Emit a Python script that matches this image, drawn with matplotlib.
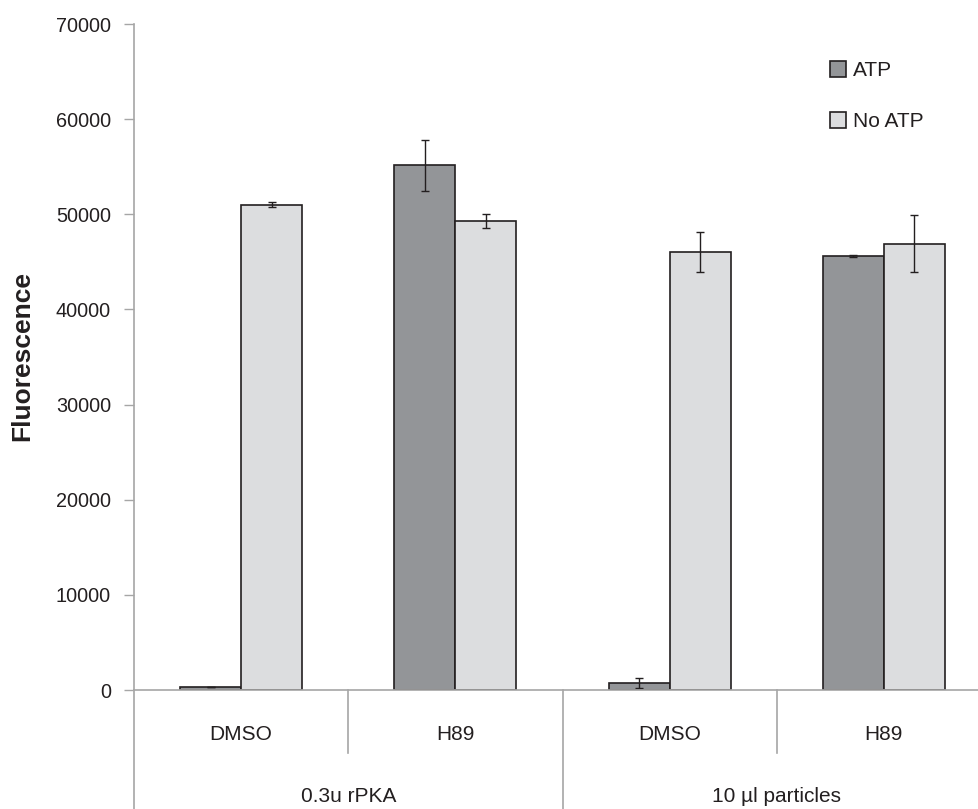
import matplotlib
matplotlib.use("Agg")
import matplotlib.pyplot as plt
from matplotlib.transforms import blended_transform_factory
from matplotlib.patches import Patch

plt.rcParams['font.family'] = ['Liberation Sans', 'DejaVu Sans']

categories = ["DMSO", "H89", "DMSO", "H89"]
groups = ["0.3u rPKA", "10 µl particles"]
series = ["ATP", "No ATP"]
atp = [350, 55150, 750, 45650]
atp_err = [0, 2700, 550, 100]
noatp = [51000, 49300, 46050, 46900]
noatp_err = [250, 700, 2100, 3000]
yticks = [0, 10000, 20000, 30000, 40000, 50000, 60000, 70000]

c_atp = "#939598"
c_no = "#dcdddf"
edge = "#231f20"
spine = "#a6a6a6"
txt = "#231f20"

fig = plt.figure(figsize=(9.79, 8.09), dpi=100)
ax = fig.add_axes([134/979, 1-690/809, (991-134)/979, (690-24)/809])

w = 0.285
xs = [i + 0.5 for i in range(len(categories))]
ekw = dict(ecolor=edge, elinewidth=1, capsize=3, capthick=1)
ax.bar([x - w/2 for x in xs], atp, w, color=c_atp, edgecolor=edge, linewidth=1.2,
       yerr=atp_err, error_kw=ekw, label=series[0])
ax.bar([x + w/2 for x in xs], noatp, w, color=c_no, edgecolor=edge, linewidth=1.2,
       yerr=noatp_err, error_kw=ekw, label=series[1])

ax.set_xlim(0, 4)
ax.set_ylim(0, 70000)
ax.set_yticks(yticks)
ax.set_yticklabels([str(v) for v in yticks], fontsize=14.3, color=txt)
ax.tick_params(axis='y', direction='out', length=7, color=spine, width=1, pad=9.5)
ax.set_xticks([])
for s in ["top", "right"]:
    ax.spines[s].set_visible(False)
for s in ["left", "bottom"]:
    ax.spines[s].set_color(spine)
    ax.spines[s].set_linewidth(1.2)

fig.text(22/979, 1-356/809, "Fluorescence", rotation=90, ha='center', va='center',
         fontsize=19, fontweight='bold', color=txt)

tr = blended_transform_factory(ax.transData, ax.transAxes)
h = (690-24)
def yax(py):
    return (690 - py) / h

ax.plot([0, 0], [0, yax(809)], transform=tr, color=spine, lw=1.2, clip_on=False)
for x in [1, 3]:
    ax.plot([x, x], [0, yax(753)], transform=tr, color=spine, lw=1.2, clip_on=False)
ax.plot([2, 2], [0, yax(809)], transform=tr, color=spine, lw=1.2, clip_on=False)

for x, c in zip(xs, categories):
    ax.text(x, yax(734), c, transform=tr, ha='center', va='center', fontsize=15, color=txt)
for i, g in enumerate(groups):
    ax.text(2*i + 1, yax(797), g, transform=tr, ha='center', va='center', fontsize=15, color=txt)

handles = [Patch(facecolor=c_atp, edgecolor=edge, linewidth=1.2, label=series[0]),
           Patch(facecolor=c_no, edgecolor=edge, linewidth=1.2, label=series[1])]
fig.legend(handles=handles, loc='upper left', bbox_to_anchor=(811/979, 1-42/809), frameon=False,
           fontsize=15, handlelength=0.8, handleheight=0.8, handletextpad=0.3, labelspacing=1.55,
           labelcolor=txt)

fig.savefig("out.png", dpi=100)
